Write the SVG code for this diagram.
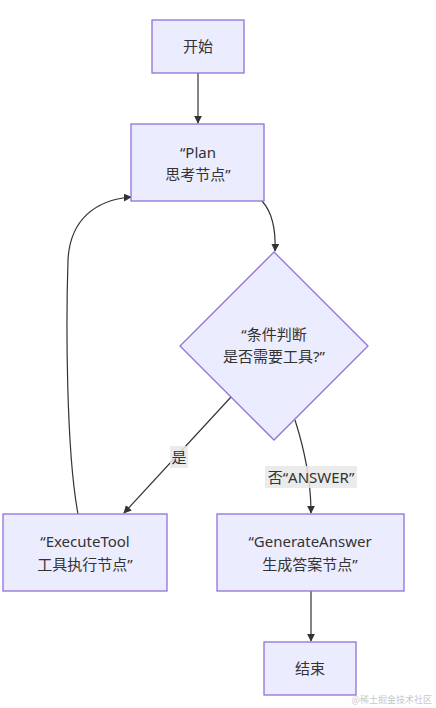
<svg xmlns="http://www.w3.org/2000/svg" width="436" height="708" viewBox="0 0 436 708">
<style>
.node{fill:#ECECFF;stroke:#9370DB;stroke-width:1.3}
.t{font-family:"Noto Sans","Noto Sans CJK SC",sans-serif;font-size:15px;fill:#333;text-anchor:middle}
.edge{fill:none;stroke:#333;stroke-width:1.2}
.lbg{fill:#e8e8e8;opacity:0.85}
</style>
<defs>
<marker id="arr" viewBox="0 0 10 10" refX="9" refY="5" markerWidth="8" markerHeight="8" orient="auto-start-reverse" markerUnits="userSpaceOnUse">
<path d="M0,0 L10,5 L0,10 z" fill="#333"/>
</marker>
</defs>
<rect width="436" height="708" fill="#fff"/>
<g id="edges">
<path class="edge" d="M198,73 L198,123" marker-end="url(#arr)"/>
<path class="edge" d="M262,201 C272,212 276,228 275,251" marker-end="url(#arr)"/>
<path class="edge" d="M231,397 L124,513" marker-end="url(#arr)"/>
<path class="edge" d="M295,420 C303,445 311,480 311,513" marker-end="url(#arr)"/>
<path class="edge" d="M78,514 C66,450 66,320 68,260 C70,220 95,200 131,197" marker-end="url(#arr)"/>
<path class="edge" d="M311,591 L311,641" marker-end="url(#arr)"/>
<rect class="lbg" x="170" y="446" width="18" height="22"/>
<text class="t" x="179" y="463">是</text>
<rect class="lbg" x="265" y="466" width="92" height="22"/>
<text class="t" x="311" y="483">否“ANSWER”</text>
</g>
<g id="start">
<rect class="node" x="152" y="20" width="92" height="53"/>
<text class="t" x="198" y="52">开始</text>
</g>
<g id="plan">
<rect class="node" x="131" y="124" width="133" height="77"/>
<text class="t" x="198" y="158">“Plan</text>
<text class="t" x="198" y="180">思考节点”</text>
</g>
<g id="decide">
<polygon class="node" points="274,252 368,346 274,440 180,346"/>
<text class="t" x="274" y="340">“条件判断</text>
<text class="t" x="274" y="362">是否需要工具?”</text>
</g>
<g id="execute">
<rect class="node" x="3" y="514" width="164" height="77"/>
<text class="t" x="85" y="547">“ExecuteTool</text>
<text class="t" x="85" y="570">工具执行节点”</text>
</g>
<g id="generate">
<rect class="node" x="217" y="514" width="187" height="77"/>
<text class="t" x="310" y="547">“GenerateAnswer</text>
<text class="t" x="310" y="570">生成答案节点”</text>
</g>
<g id="end">
<rect class="node" x="264" y="642" width="92" height="53"/>
<text class="t" x="310" y="674">结束</text>
</g>
<text x="432" y="703" font-family="Noto Sans CJK SC,sans-serif" font-size="9" fill="#c8c8c8" text-anchor="end">@稀土掘金技术社区</text>
</svg>
